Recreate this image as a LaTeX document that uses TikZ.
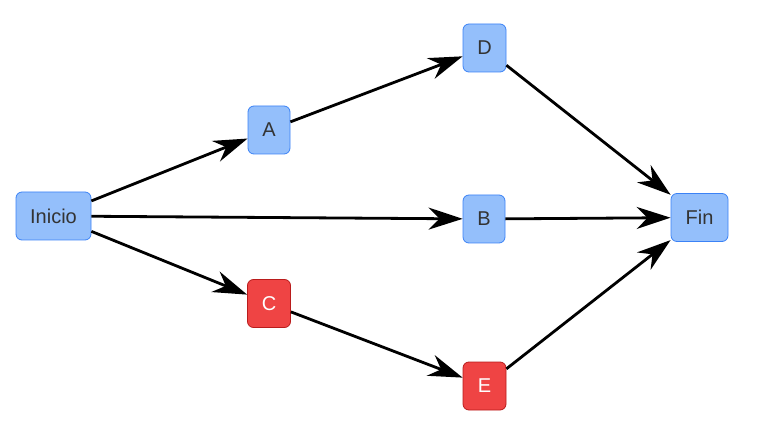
\documentclass[tikz,border=0pt]{standalone}
\usepackage{fontspec}
\setmainfont{Liberation Sans}
\usetikzlibrary{arrows.meta}
\definecolor{bfill}{HTML}{94BFFB}
\definecolor{bdraw}{HTML}{3B82F6}
\definecolor{rfill}{HTML}{EF4444}
\definecolor{rdraw}{HTML}{B91C1C}
\definecolor{txt}{HTML}{333333}
\begin{document}
\begin{tikzpicture}[x=1pt,y=-1pt,
  bnode/.style={draw=bdraw,fill=bfill,line width=0.8pt,rounded corners=6pt,text=txt,font=\fontsize{20}{22}\selectfont,inner sep=0pt,minimum height=48pt},
  rnode/.style={bnode,draw=rdraw,fill=rfill,text=white},
  conn/.style={line width=2.8pt,-{Stealth[length=34pt,width=22pt,inset=11pt]}}]
\useasboundingbox (0,0) rectangle (765,438);
\node[bnode,minimum width=75pt] (ini) at (53.5,216) {Inicio};
\node[bnode,minimum width=42pt] (a) at (269,130) {A};
\node[bnode,minimum width=43pt] (d) at (484.5,48) {D};
\node[bnode,minimum width=42pt] (b) at (484,219) {B};
\node[rnode,minimum width=43pt] (c) at (269,303.5) {C};
\node[rnode,minimum width=43pt] (e) at (484.5,386) {E};
\node[bnode,minimum width=57pt] (fin) at (699.5,217.5) {Fin};
\draw[conn] (ini) -- (a);
\draw[conn] (ini) -- (b);
\draw[conn] (ini) -- (c);
\draw[conn] (a) -- (d);
\draw[conn] (c) -- (e);
\draw[conn] (d) -- (fin);
\draw[conn] (b) -- (fin);
\draw[conn] (e) -- (fin);
\end{tikzpicture}
\end{document}
